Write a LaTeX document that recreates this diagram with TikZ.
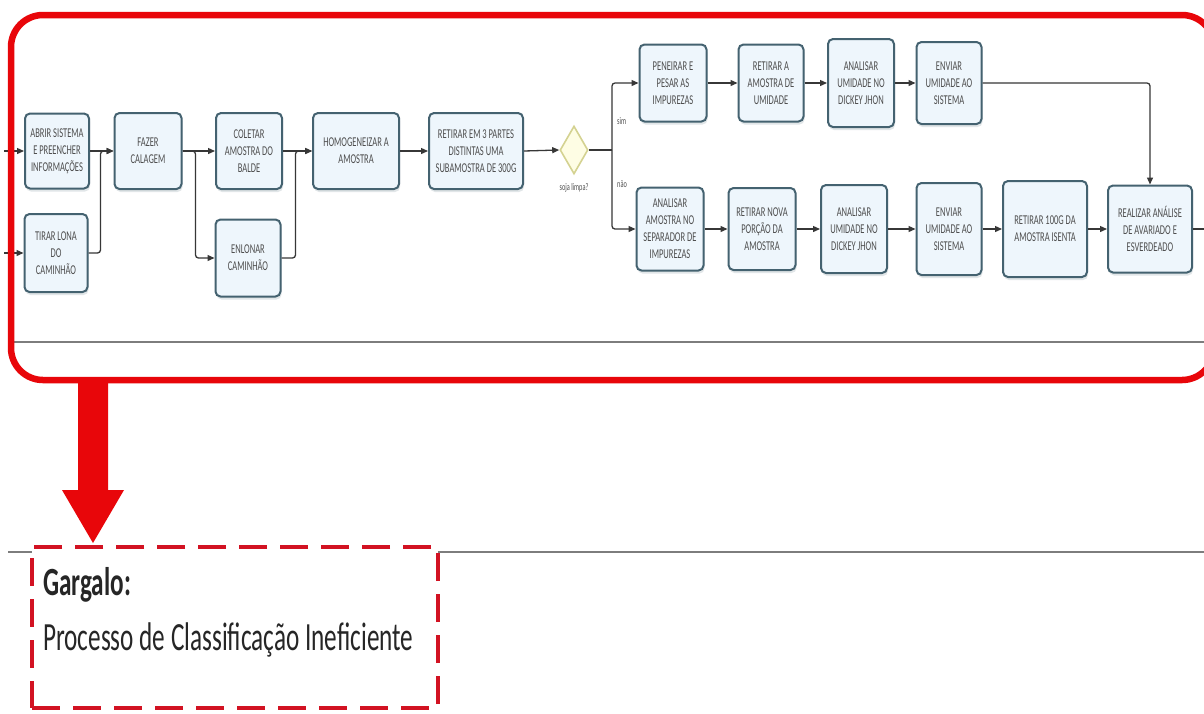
\documentclass[tikz,border=0pt]{standalone}
\usepackage{fontspec}
\setmainfont{Carlito}
\newfontfamily\narrowfont[FakeStretch=0.63]{Carlito}
\usetikzlibrary{arrows.meta,shapes.geometric,shadows}

\definecolor{framered}{RGB}{232,6,10}
\definecolor{dashred}{RGB}{210,18,34}
\definecolor{boxline}{RGB}{68,98,112}
\definecolor{boxfill}{RGB}{238,246,252}
\definecolor{boxtext}{RGB}{78,78,78}
\definecolor{flowline}{RGB}{55,55,55}
\definecolor{gwfill}{RGB}{254,253,228}
\definecolor{gwline}{RGB}{212,210,145}
\definecolor{lanegray}{RGB}{125,125,125}

\begin{document}
\begin{tikzpicture}[x=1pt,y=-1pt,
  task/.style={draw=boxline, line width=2pt, fill=boxfill, rounded corners=5pt,
    inner sep=1pt, align=center, text=boxtext,
    font=\narrowfont\fontsize{13.5}{17}\selectfont,
    drop shadow={shadow xshift=1pt, shadow yshift=-3pt, fill=boxline!45, opacity=0.35}},
  gateway/.style={diamond, draw=gwline, line width=1.6pt, fill=gwfill, inner sep=0pt,
    minimum width=28pt, minimum height=48pt},
  flow/.style={draw=flowline, line width=1.3pt, -{Triangle[length=7pt,width=6pt]}},
  plainflow/.style={draw=flowline, line width=1.3pt},
  smalllabel/.style={font=\narrowfont\fontsize{10}{12}\selectfont, text=boxtext, inner sep=1pt},
  lane/.style={draw=lanegray, line width=1.2pt},
  bigtext/.style={font=\narrowfont\fontsize{40}{48}\selectfont, text=black!85, anchor=base west, inner sep=0pt}
]
\useasboundingbox (0,0) rectangle (1204,713);
\fill[white] (0,0) rectangle (1204,713);

% lane separators
\draw[lane] (12,342) -- (1204,342);
\draw[lane] (8,552) -- (1204,552);

% process steps
\node[task, minimum width=64pt, minimum height=75pt] (abrir) at (57,151) {ABRIR SISTEMA\\E PREENCHER\\INFORMAÇÕES};
\node[task, minimum width=63pt, minimum height=78pt] (tirar) at (56,253) {TIRAR LONA\\DO\\CAMINHÃO};
\node[task, minimum width=67pt, minimum height=76pt] (fazer) at (148,151) {FAZER\\CALAGEM};
\node[task, minimum width=66pt, minimum height=76pt] (coletar) at (249,151) {COLETAR\\AMOSTRA DO\\BALDE};
\node[task, minimum width=65pt, minimum height=77pt] (enlonar) at (248,258) {ENLONAR\\CAMINHÃO};
\node[task, minimum width=86pt, minimum height=76pt] (homog) at (356,151) {HOMOGENEIZAR A\\AMOSTRA};
\node[task, minimum width=94pt, minimum height=76pt] (subam) at (476,151) {RETIRAR EM 3 PARTES\\DISTINTAS UMA\\SUBAMOSTRA DE 300G};
\node[gateway] (gw) at (574,150) {};
\node[smalllabel, anchor=north] (gwlabel) at ([yshift=-8pt]gw.south) {soja limpa?};

% branch "sim"
\node[task, minimum width=67pt, minimum height=77pt] (peneirar) at (673,83) {PENEIRAR E\\PESAR AS\\IMPUREZAS};
\node[task, minimum width=65pt, minimum height=77pt] (retumid) at (771,83) {RETIRAR A\\AMOSTRA DE\\UMIDADE};
\node[task, minimum width=66pt, minimum height=88pt] (analumidA) at (861,83) {ANALISAR\\UMIDADE NO\\DICKEY JHON};
\node[task, minimum width=65pt, minimum height=82pt] (enviarA) at (949,83) {ENVIAR\\UMIDADE AO\\SISTEMA};

% branch "não"
\node[task, minimum width=67pt, minimum height=83pt] (analam) at (670,229) {ANALISAR\\AMOSTRA NO\\SEPARADOR DE\\IMPUREZAS};
\node[task, minimum width=67pt, minimum height=82pt] (retnova) at (762,229) {RETIRAR NOVA\\PORÇÃO DA\\AMOSTRA};
\node[task, minimum width=66pt, minimum height=88pt] (analumidB) at (854,229) {ANALISAR\\UMIDADE NO\\DICKEY JHON};
\node[task, minimum width=65pt, minimum height=92pt] (enviarB) at (949,229) {ENVIAR\\UMIDADE AO\\SISTEMA};
\node[task, minimum width=84pt, minimum height=96pt] (ret100) at (1045,229) {RETIRAR 100G DA\\AMOSTRA ISENTA};
\node[task, minimum width=84pt, minimum height=87pt] (realizar) at (1150,229) {REALIZAR ANÁLISE\\DE AVARIADO E\\ESVERDEADO};

% loose ends of the flow
\coordinate (inA) at (4,151);
\coordinate (inB) at (4,253);
\coordinate (outR) at (1210,229);
\coordinate (split) at (612,150);

% connectors
\draw[flow] (inA) -- (abrir);
\draw[flow] (inB) -- (tirar);
\draw[flow] (abrir) -- (fazer);
\draw[flow, rounded corners=3pt] (tirar.east) -- ++(12pt,0) |- (fazer.west);
\draw[flow] (fazer) -- (coletar);
\draw[flow, rounded corners=3pt] (fazer.east) -- ++(13pt,0) |- (enlonar.west);
\draw[flow] (coletar) -- (homog);
\draw[flow, rounded corners=3pt] (enlonar.east) -- ++(14pt,0) |- (homog.west);
\draw[flow] (homog) -- (subam);
\draw[flow] (subam.east) -- (gw.west);
\draw[plainflow] (gw.east) -- (split);
\draw[flow, rounded corners=3pt] (split) |- (peneirar.west);
\draw[flow, rounded corners=3pt] (split) |- (analam.west);
\node[smalllabel, anchor=west] (simlabel) at (616,121) {sim};
\node[smalllabel, anchor=west] (naolabel) at (616,184) {não};

\draw[flow] (peneirar) -- (retumid);
\draw[flow] (retumid) -- (analumidA);
\draw[flow] (analumidA) -- (enviarA);
\draw[flow, rounded corners=3pt] (enviarA.east) -| (realizar.north);

\draw[flow] (analam) -- (retnova);
\draw[flow] (retnova) -- (analumidB);
\draw[flow] (analumidB) -- (enviarB);
\draw[flow] (enviarB) -- (ret100);
\draw[flow] (ret100) -- (realizar);
\draw[plainflow] (realizar) -- (outR);

% highlight frame around the process
\draw[framered, line width=6.5pt, rounded corners=32pt] (11,15) rectangle (1214,380);

% bottleneck box
\node[draw=dashred, line width=4.5pt, dash pattern=on 28pt off 13pt, fill=white,
  minimum width=406pt, minimum height=161pt, inner sep=0pt] (gargalo) at (235,627.5) {};
\node[bigtext] (gtitle) at (43,595) {\bfseries Gargalo:};
\node[bigtext] (gdesc) at (43,650) {Processo de Classificação Ineficiente};

% big arrow from the frame down to the bottleneck box
\coordinate (arrowstart) at (93,383);
\coordinate (arrowend) at (93,543);
\fill[framered] (arrowstart) ++(-15,0) -- ++(30,0) -- (108,490) -- (124,490)
  -- (arrowend) -- (62,490) -- (78,490) -- cycle;
\end{tikzpicture}
\end{document}
